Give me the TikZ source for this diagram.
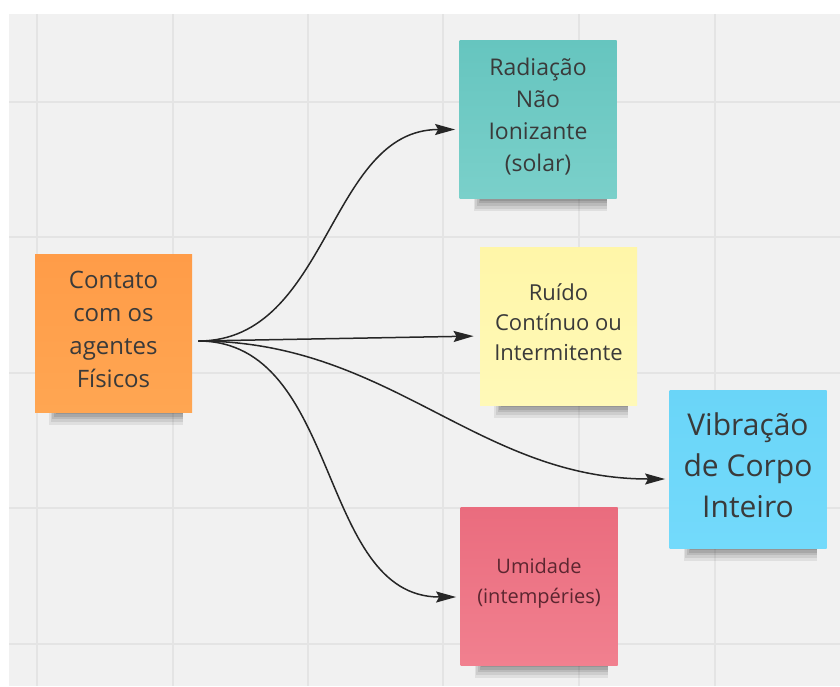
\documentclass[tikz,border=0pt]{standalone}
\usepackage{fontspec}
\setmainfont{Open Sans}
\usetikzlibrary{arrows.meta,shadows}
\definecolor{Board}{RGB}{241,241,241}
\definecolor{GridLine}{RGB}{228,228,228}
\definecolor{Ink}{RGB}{58,58,58}
\definecolor{InkRed}{RGB}{92,38,48}
\definecolor{OrangeTop}{RGB}{255,156,72}
\definecolor{OrangeBot}{RGB}{255,166,82}
\definecolor{TealTop}{RGB}{102,197,191}
\definecolor{TealBot}{RGB}{122,208,202}
\definecolor{YellowTop}{RGB}{255,246,168}
\definecolor{YellowBot}{RGB}{255,249,184}
\definecolor{BlueTop}{RGB}{106,213,248}
\definecolor{BlueBot}{RGB}{115,218,251}
\definecolor{PinkTop}{RGB}{234,108,126}
\definecolor{PinkBot}{RGB}{241,128,143}
\tikzset{
  >={Stealth[length=10pt,width=5.5pt,inset=1.5pt]},
  sticky/.style={rectangle,inner sep=2pt,align=center,text=Ink,text depth=4pt,minimum width=78.5pt,minimum height=79pt,
    general shadow={fill=black,opacity=.07,shadow scale=.85,shadow xshift=1.5pt,shadow yshift=-14.5pt},
    general shadow={fill=black,opacity=.08,shadow scale=.84,shadow xshift=2pt,shadow yshift=-13.5pt},
    general shadow={fill=black,opacity=.09,shadow scale=.83,shadow xshift=2.5pt,shadow yshift=-12.5pt},
    general shadow={fill=black,opacity=.10,shadow scale=.82,shadow xshift=3pt,shadow yshift=-11.5pt},
    general shadow={fill=black,opacity=.10,shadow scale=.81,shadow xshift=3.5pt,shadow yshift=-10.5pt},
    general shadow={fill=black,opacity=.10,shadow scale=.80,shadow xshift=4pt,shadow yshift=-9.5pt}},
  agente/.style={sticky,top color=OrangeTop,bottom color=OrangeBot,font=\fontsize{12}{16.5}\selectfont},
  radiacao/.style={sticky,top color=TealTop,bottom color=TealBot,text depth=5pt,font=\fontsize{11.5}{16}\selectfont},
  ruido/.style={sticky,top color=YellowTop,bottom color=YellowBot,font=\fontsize{11}{15}\selectfont},
  vibracao/.style={sticky,top color=BlueTop,bottom color=BlueBot,font=\fontsize{15}{20.5}\selectfont},
  umidade/.style={sticky,top color=PinkTop,bottom color=PinkBot,text=InkRed,text depth=5pt,font=\fontsize{10}{15}\selectfont},
  grid line/.style={draw=GridLine,line width=1pt},
  link/.style={->,line width=.75pt,draw=black!85,shorten >=2pt}
}
\begin{document}
\begin{tikzpicture}[x=.5pt,y=-.5pt]
  \useasboundingbox (0,0) rectangle (840,686);
  \fill[Board] (9,14) rectangle (840,686);
  \foreach \gx in {37,173,308,443,579,715}
    \draw[grid line] (\gx,14) -- (\gx,686);
  \foreach \gy in {102,237,373,508,644}
    \draw[grid line] (9,\gy) -- (840,\gy);
  \node[agente] (contato) at (113.5,333) {Contato\\com os\\agentes\\Físicos};
  \node[radiacao] (radiacao) at (538,119.5) {Radiação\\Não\\Ionizante\\(solar)};
  \node[ruido] (ruido) at (558.5,326) {Ruído\\Contínuo ou\\Intermitente};
  \node[vibracao] (vibracao) at (748,469) {Vibração\\de Corpo\\Inteiro};
  \node[umidade] (umidade) at (539,586) {Umidade\\(intempéries)};
  \coordinate (src) at ([xshift=3pt,yshift=-4pt]contato.east);
  \draw[link] (src) to[out=0,in=180] ([yshift=-5pt]radiacao.west);
  \draw[link,shorten >=3pt] (src) -- ([yshift=-5pt]ruido.west);
  \draw[link] (src) to[out=0,in=180] ([yshift=-5pt]vibracao.west);
  \draw[link] (src) to[out=0,in=180] ([yshift=-5.5pt]umidade.west);
\end{tikzpicture}
\end{document}
